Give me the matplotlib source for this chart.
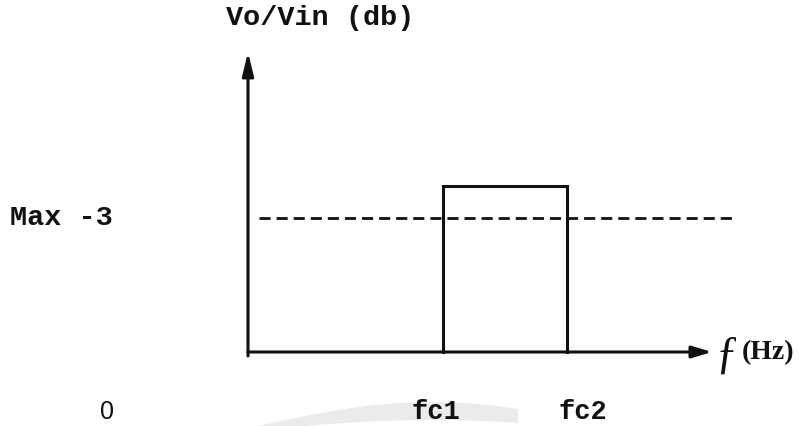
import matplotlib
matplotlib.use("Agg")
import matplotlib.pyplot as plt
import numpy as np
from matplotlib.patches import Polygon

# ---- data (diagram units: frequency along x, gain along y) ----
freq_tick_labels = ["0", "fc1", "fc2"]
fc1 = 195
fc2 = 319
passband_gain = 166
cutoff_gain = 134          # the "Max -3" dB level
f_axis_end = 464
gain_axis_end = 300
dash_start, dash_end = 11, 485
y_label = "Vo/Vin (db)"
cutoff_label = "Max -3"

plt.rcParams["lines.scale_dashes"] = False
fig = plt.figure(figsize=(8.04, 4.27), dpi=100)
ax = fig.add_axes([0, 0, 1, 1])
ax.set_xlim(-248, 556)
ax.set_ylim(-74, 353)
ax.axis("off")

lw = 2.2
ink = "#111111"

# faint scan shadow at the bottom (curved band)
t = np.linspace(0, 1, 40)
upper_x = 10 + 260 * t
upper_y = -74 + 24 * np.sin(np.pi * t * 0.75)
lower_x = upper_x[::-1]
lower_y = -74 + 10 * np.sin(np.pi * t[::-1] * 0.75) - 4
ax.add_patch(Polygon(np.column_stack([np.r_[upper_x, lower_x],
                                      np.r_[upper_y, lower_y]]),
                     closed=True, facecolor="#ebebeb", edgecolor="none", zorder=0))

# axes with arrows
ax.annotate("", xy=(0, gain_axis_end), xytext=(0, -4),
            arrowprops=dict(arrowstyle="-|>,head_length=1.4,head_width=0.34",
                            mutation_scale=10, lw=lw, color=ink,
                            shrinkA=0, shrinkB=0))
ax.annotate("", xy=(f_axis_end, 0), xytext=(0, 0),
            arrowprops=dict(arrowstyle="-|>,head_length=1.2,head_width=0.36",
                            mutation_scale=10, lw=lw, color=ink,
                            shrinkA=0, shrinkB=0))

# ideal band-pass box
ax.plot([fc1, fc1, fc2, fc2], [0, passband_gain, passband_gain, 0],
        color=ink, lw=lw, solid_joinstyle="miter")

# -3 dB dashed line
ax.plot([dash_start, dash_end], [cutoff_gain, cutoff_gain], color=ink, lw=2.0,
        dashes=(8, 4.3))

mono = dict(family="Liberation Mono", weight="bold", color=ink)
ax.text(72, 335, y_label, fontsize=20.5, ha="center", va="center", **mono)
ax.text(-238, cutoff_gain + 1, cutoff_label, fontsize=20.5, ha="left",
        va="center", **mono)

# frequency tick labels under the axis
ax.text(-141, -59, freq_tick_labels[0], fontsize=18, ha="center", va="center",
        family="Liberation Sans", color=ink)
ax.text(fc1 - 7, -59, freq_tick_labels[1], fontsize=19.5, ha="center",
        va="center", **mono)
ax.text(fc2 + 16, -59, freq_tick_labels[2], fontsize=19.5, ha="center",
        va="center", **mono)

# axis name for frequency
ax.text(479, -3, "ƒ", fontsize=33, ha="center", va="center",
        family="Liberation Serif", color=ink)
ax.text(494, 0, "(Hz)", fontsize=20, ha="left", va="center",
        family="Liberation Serif", weight="bold", color=ink)

fig.savefig("out.png", dpi=100, facecolor="white")
